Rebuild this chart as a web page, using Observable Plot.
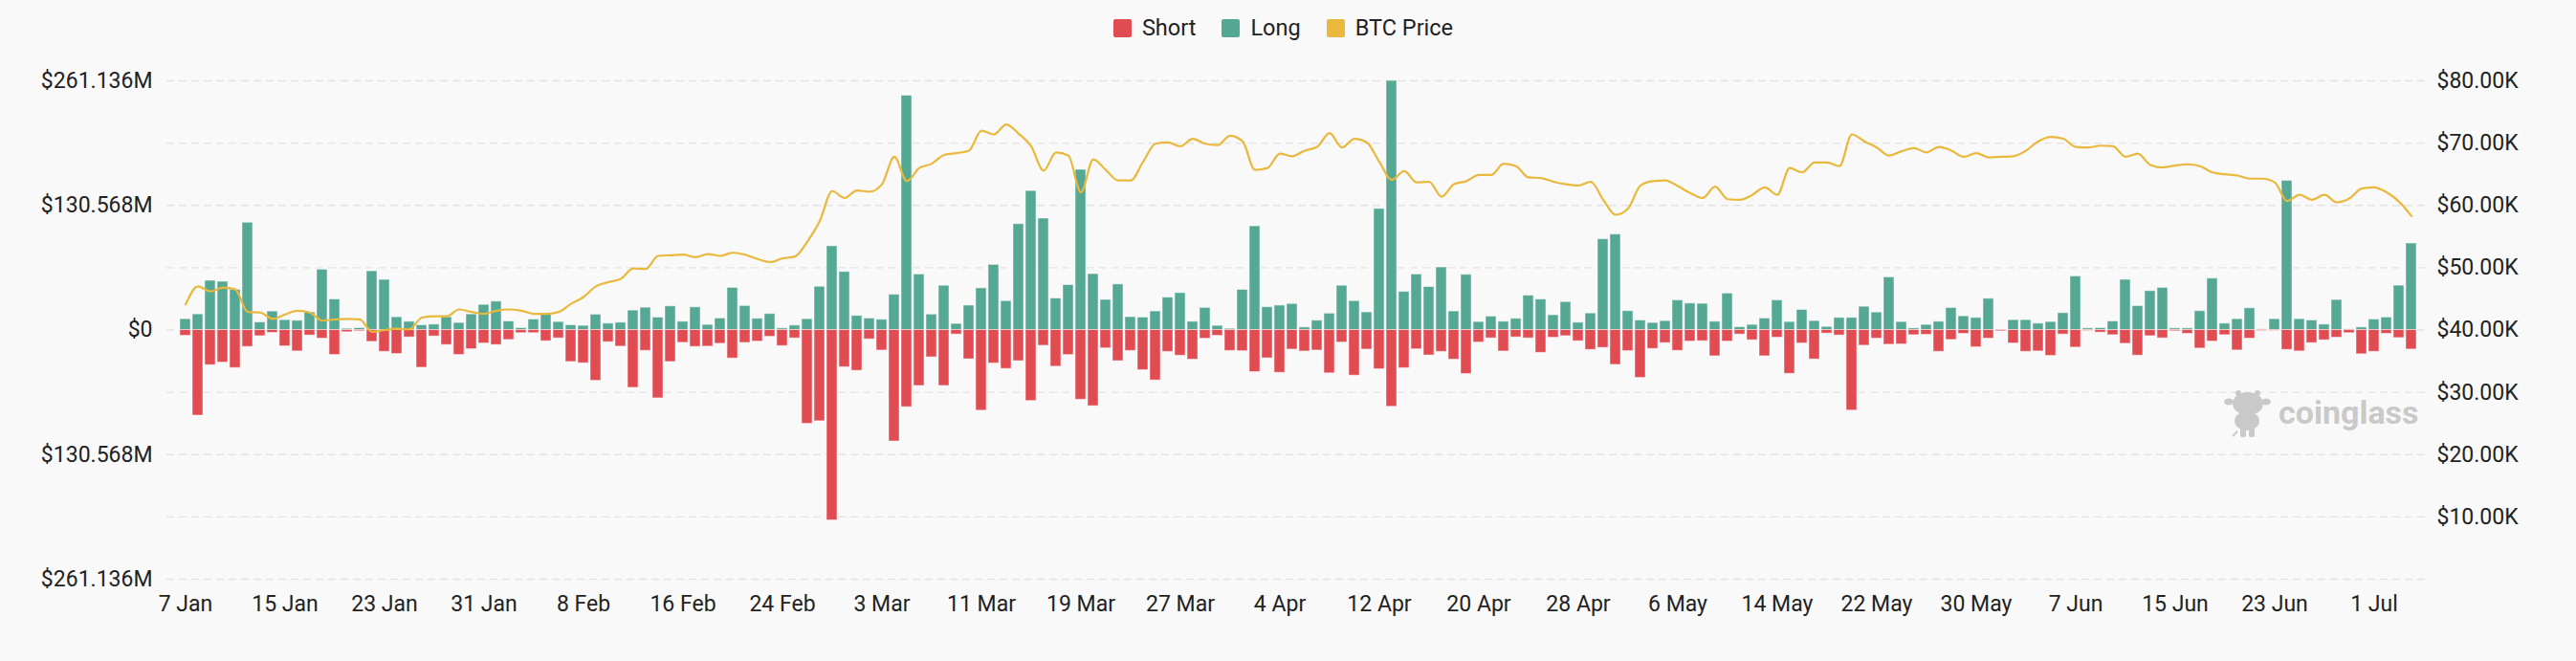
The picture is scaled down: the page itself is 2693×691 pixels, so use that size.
<!DOCTYPE html>
<html>
<head>
<meta charset="utf-8">
<script src="https://cdn.jsdelivr.net/npm/d3@7"></script>
<script src="https://cdn.jsdelivr.net/npm/@observablehq/plot@0.6"></script>
<style>
  html, body { margin: 0; padding: 0; background: #f9f9f9; }
  body { width: 2693px; height: 691px; overflow: hidden; font-family: Roboto, "Noto Sans", sans-serif; color: #222; }
  #legend { height: 58px; display: flex; justify-content: center; align-items: center; gap: 27px; font-size: 23.5px; padding-right: 10px; box-sizing: border-box; }
  .item { display: flex; align-items: center; gap: 11px; }
  .sw { width: 19px; height: 19px; border-radius: 2px; }
  #chart svg { display: block; }
</style>
</head>
<body>
<div id="legend"></div>
<div id="chart"></div>
<script>
// ---- Data ----
const startDate = "2024-01-07";
const endDate = "2024-07-05"; // exclusive

// Long liquidations, $M (plotted above zero)
const longM = [
  11.4, 16.4, 51.6, 50.6, 42.2, 112.5, 8.0, 19.4, 10.4, 9.7,
  18.4, 63.3, 32.1, 1.3, 2.0, 61.6, 52.6, 13.4, 8.7, 5.0,
  5.7, 13.4, 7.4, 16.4, 26.4, 29.8, 9.0, 2.0, 11.0, 16.1,
  8.4, 5.0, 4.4, 16.1, 6.7, 7.7, 20.4, 23.4, 13.1, 24.8,
  8.7, 23.8, 5.4, 12.1, 44.2, 25.2, 11.8, 16.8, 1.7, 4.7,
  11.4, 45.4, 87.8, 60.9, 14.8, 12.1, 10.8, 37.0, 245.6, 58.2,
  16.2, 46.4, 6.4, 25.6, 43.7, 68.3, 30.3, 111.0, 145.7, 116.8,
  33.0, 47.1, 167.9, 58.6, 31.6, 47.8, 13.5, 13.1, 19.5, 34.0,
  38.7, 8.7, 23.2, 4.4, 1.3, 42.1, 108.7, 23.9, 25.6, 27.3,
  2.7, 9.8, 17.2, 46.4, 30.3, 18.5, 126.9, 261.1, 40.0, 58.2,
  45.1, 65.6, 19.5, 57.9, 8.4, 14.1, 8.7, 11.8, 36.0, 32.0,
  15.5, 29.3, 7.7, 17.4, 95.1, 100.1, 19.8, 10.0, 7.4, 9.4,
  31.1, 27.8, 27.5, 8.7, 38.2, 3.0, 5.4, 12.1, 31.1, 8.4,
  21.1, 9.4, 3.3, 12.7, 12.7, 24.4, 18.4, 55.2, 8.4, 1.7,
  5.4, 8.7, 23.1, 14.4, 12.7, 32.8, 0.3, 10.4, 10.4, 6.7,
  8.4, 17.7, 56.2, 1.7, 2.0, 9.0, 52.6, 25.1, 40.8, 44.2,
  1.7, 1.7, 19.8, 53.9, 6.7, 11.4, 22.8, 0.7, 11.4, 156.4,
  11.4, 10.0, 5.7, 31.5, 0.7, 2.7, 11.0, 13.1, 46.5, 90.7
];

// Short liquidations, $M (plotted below zero)
const shortM = [
  6.0, 89.7, 36.8, 34.1, 39.8, 17.7, 6.4, 3.0, 17.1, 22.4,
  5.7, 9.0, 26.1, 2.3, 1.3, 12.4, 22.8, 25.1, 7.7, 39.5,
  6.7, 15.7, 26.1, 20.1, 14.1, 15.7, 10.4, 3.3, 3.3, 11.7,
  8.7, 33.5, 34.8, 53.2, 12.7, 17.4, 60.6, 21.8, 71.6, 33.5,
  13.4, 17.7, 17.4, 14.4, 29.8, 13.5, 12.1, 7.1, 16.8, 8.7,
  98.3, 95.6, 199.5, 39.0, 42.7, 9.8, 21.5, 116.8, 80.8, 58.6,
  28.6, 58.6, 4.7, 30.6, 84.5, 35.0, 40.7, 32.6, 74.4, 16.5,
  38.4, 26.2, 73.0, 79.8, 19.2, 32.6, 21.9, 42.1, 52.8, 22.9,
  26.9, 31.0, 9.1, 6.1, 21.9, 22.2, 44.1, 29.6, 44.8, 20.5,
  22.5, 21.5, 45.4, 13.1, 47.8, 20.5, 41.1, 80.4, 40.0, 20.2,
  26.6, 22.9, 31.0, 46.1, 13.1, 8.7, 22.5, 7.7, 8.7, 23.9,
  8.1, 6.4, 11.7, 20.8, 18.7, 36.5, 22.1, 50.2, 19.8, 13.7,
  21.8, 12.1, 11.7, 27.5, 12.1, 4.7, 10.7, 27.5, 8.0, 45.9,
  14.1, 30.8, 3.7, 5.7, 84.4, 16.4, 9.0, 15.4, 15.1, 5.4,
  5.0, 22.8, 10.4, 4.0, 18.1, 9.0, 1.3, 14.1, 22.8, 22.4,
  27.1, 4.7, 18.4, 1.0, 2.7, 5.4, 14.4, 26.8, 6.4, 8.7,
  1.3, 4.0, 19.4, 12.1, 5.4, 21.4, 9.0, 1.0, 0.7, 20.8,
  22.4, 13.7, 10.7, 8.0, 3.3, 25.4, 22.8, 4.0, 8.4, 20.4
];

// BTC price, $K
const priceK = [
  44.1, 47.0, 46.2, 46.8, 46.5, 42.9, 42.8, 41.8, 42.5, 43.1,
  42.8, 41.5, 41.7, 41.8, 41.7, 39.7, 40.0, 40.2, 40.1, 42.0,
  42.2, 42.2, 43.3, 42.9, 42.6, 43.1, 43.3, 43.1, 42.6, 42.6,
  42.9, 44.2, 45.3, 47.0, 47.7, 48.2, 49.9, 49.8, 51.9, 52.0,
  52.1, 51.7, 52.2, 51.9, 52.4, 52.1, 51.4, 50.9, 51.5, 51.8,
  54.2, 57.5, 62.3, 61.2, 62.4, 62.2, 63.4, 67.8, 63.9, 66.0,
  66.7, 68.1, 68.4, 68.8, 72.0, 71.4, 73.0, 71.5, 69.5, 65.6,
  68.5, 68.0, 62.1, 67.4, 65.7, 64.0, 64.0, 67.0, 69.9, 70.1,
  69.5, 70.7, 69.9, 69.7, 71.2, 70.3, 65.7, 66.0, 68.3, 67.9,
  68.8, 69.4, 71.6, 69.3, 70.7, 70.1, 67.0, 64.1, 65.5, 63.7,
  63.8, 61.4, 63.4, 63.9, 64.9, 64.9, 66.7, 66.3, 64.5, 64.4,
  63.8, 63.4, 63.2, 63.8, 60.9, 58.5, 59.5, 63.2, 63.9, 64.0,
  63.1, 62.0, 61.2, 63.0, 61.0, 60.9, 61.7, 62.9, 61.7, 66.0,
  65.3, 66.9, 66.9, 66.3, 71.4, 70.3, 69.3, 68.0, 68.7, 69.2,
  68.5, 69.4, 68.8, 67.8, 68.4, 67.7, 67.8, 67.9, 68.8, 70.3,
  71.0, 70.7, 69.4, 69.3, 69.6, 69.5, 67.8, 68.3, 66.5, 66.1,
  66.4, 66.6, 66.3, 65.3, 65.0, 64.8, 64.3, 64.3, 63.7, 60.7,
  61.7, 60.9, 61.7, 60.5, 61.1, 62.7, 62.9, 62.1, 60.6, 58.3
];

// Axis tick labels
const xTickLabels = ["7 Jan","15 Jan","23 Jan","31 Jan","8 Feb","16 Feb","24 Feb","3 Mar","11 Mar","19 Mar","27 Mar","4 Apr","12 Apr","20 Apr","28 Apr","6 May","14 May","22 May","30 May","7 Jun","15 Jun","23 Jun","1 Jul"];
const leftTickValues = [-261.136, -130.568, 0, 130.568, 261.136];
const leftTickLabels = ["$261.136M", "$130.568M", "$0", "$130.568M", "$261.136M"];
const priceTickValues = [10, 20, 30, 40, 50, 60, 70, 80];
const priceTickLabels = ["$10.00K","$20.00K","$30.00K","$40.00K","$50.00K","$60.00K","$70.00K","$80.00K"];

// ---- Styling ----
const GREEN = "#54a894";
const RED = "#e14b52";
const YELLOW = "#e9b83c";

// ---- Legend ----
const legendItems = [["Short", RED], ["Long", GREEN], ["BTC Price", YELLOW]];
const legend = document.getElementById("legend");
for (const [name, color] of legendItems) {
  const it = document.createElement("div");
  it.className = "item";
  it.innerHTML = `<span class="sw" style="background:${color}"></span><span>${name}</span>`;
  legend.appendChild(it);
}

// ---- Build table ----
const fmt = d3.utcFormat("%Y-%m-%d");
const dates = d3.utcDay.range(new Date(startDate), new Date(endDate)).map(fmt);
const L = 261.136;
const PMAX = 80;
const priceToY = p => p / PMAX * 2 * L - L;
const rows = dates.map((d, i) => ({date: d, long: longM[i], short: -shortM[i], price: priceToY(priceK[i])}));

const xTickDates = xTickLabels.map((_, k) => dates[k * 8]);
const xMap = new Map(xTickDates.map((d, k) => [d, xTickLabels[k]]));
const leftMap = new Map(leftTickValues.map((v, k) => [v, leftTickLabels[k]]));
const rightVals = priceTickValues.map(priceToY);
const rightMap = new Map(rightVals.map((v, k) => [v, priceTickLabels[k]]));
const gridValues = d3.range(9).map(k => -L + k * L / 4);

const chart = Plot.plot({
  width: 2693,
  height: 633,
  marginLeft: 174,
  marginRight: 153,
  marginTop: 26,
  marginBottom: 86,
  style: {fontFamily: "Roboto, 'Noto Sans', sans-serif", fontSize: "23px", color: "#222", background: "transparent", overflow: "visible"},
  x: {type: "band", domain: dates, paddingInner: 0.16, paddingOuter: 0.08, axis: null, label: null},
  y: {domain: [-L, L], axis: null, label: null},
  marks: [
    Plot.ruleY(gridValues, {stroke: "#e3e3e3", strokeDasharray: "8,5", strokeWidth: 1.3}),
    Plot.barY(rows, {x: "date", y1: 0, y2: "long", fill: GREEN, stroke: "#ffffff", strokeOpacity: 0.5, strokeWidth: 1}),
    Plot.barY(rows, {x: "date", y1: 0, y2: "short", fill: RED, stroke: "#ffffff", strokeOpacity: 0.5, strokeWidth: 1}),
    Plot.line(rows, {x: "date", y: "price", stroke: YELLOW, strokeWidth: 2.2, curve: "monotone-x"}),
    Plot.axisY(leftTickValues, {anchor: "left", tickSize: 0, tickPadding: 15, label: null, tickFormat: d => leftMap.get(d)}),
    Plot.axisY(rightVals, {anchor: "right", tickSize: 0, tickPadding: 7, label: null, tickFormat: d => rightMap.get(d)}),
    Plot.axisX(xTickDates, {anchor: "bottom", tickSize: 0, tickPadding: 17, label: null, tickFormat: d => xMap.get(d)})
  ]
});
document.getElementById("chart").appendChild(chart);

// ---- Watermark (decoration) ----
const svg = d3.select(chart);
const wm = svg.append("g").attr("fill", "#c9c9c9");
// mascot silhouette
wm.append("circle").attr("cx", 2340).attr("cy", 353).attr("r", 3);
wm.append("circle").attr("cx", 2360).attr("cy", 353).attr("r", 3);
wm.append("ellipse").attr("cx", 2330).attr("cy", 362).attr("rx", 5).attr("ry", 3.5);
wm.append("ellipse").attr("cx", 2369).attr("cy", 362).attr("rx", 5).attr("ry", 3.5);
wm.append("ellipse").attr("cx", 2350).attr("cy", 364).attr("rx", 16).attr("ry", 12);
wm.append("ellipse").attr("cx", 2349).attr("cy", 382).attr("rx", 13).attr("ry", 10);
wm.append("rect").attr("x", 2342).attr("y", 388).attr("width", 6).attr("height", 11).attr("rx", 2);
wm.append("rect").attr("x", 2351).attr("y", 388).attr("width", 6).attr("height", 11).attr("rx", 2);
wm.append("line").attr("x1", 2334).attr("y1", 398).attr("x2", 2339).attr("y2", 393)
  .attr("stroke", "#c9c9c9").attr("stroke-width", 2);
wm.append("text").attr("x", 2382).attr("y", 385).attr("text-anchor", "start")
  .attr("font-family", "Roboto, sans-serif").attr("font-weight", 700).attr("font-size", 34)
  .text("coinglass");
</script>
</body>
</html>
